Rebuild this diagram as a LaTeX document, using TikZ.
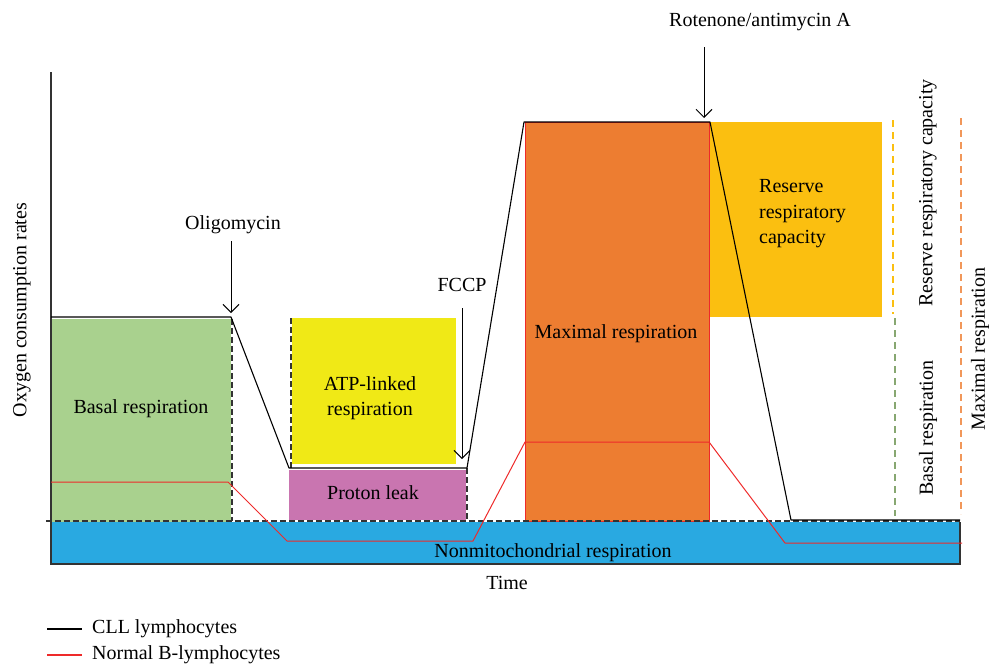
\documentclass[tikz,border=0pt]{standalone}
\usepackage{fontspec}
\setmainfont{Liberation Serif}
\usetikzlibrary{arrows.meta}
\definecolor{cgreen}{HTML}{A9D18E}
\definecolor{cyellow}{HTML}{F0E916}
\definecolor{cpink}{HTML}{C975B0}
\definecolor{corange}{HTML}{ED7D31}
\definecolor{cgold}{HTML}{FBBF10}
\definecolor{cblue}{HTML}{29A9E1}
\definecolor{cred}{HTML}{EE2A2A}
\definecolor{caxis}{HTML}{333333}
\tikzset{
  lbl/.style={font=\fontsize{20}{25.5}\selectfont, inner sep=0pt, align=center},
  cll/.style={black, line width=1.1pt, line join=round},
  normb/.style={cred, line width=1pt, line join=round},
  drug/.style={black, line width=1pt, -{Straight Barb[length=8pt,width=16pt,line width=1pt]}},
  bdash/.style={black!80, dashed, dash pattern=on 6pt off 3pt, line width=1.1pt},
  vdash/.style={dashed, dash pattern=on 7pt off 5pt, line width=1.1pt}
}
\begin{document}
\begin{tikzpicture}[x=1pt,y=-1pt]
\useasboundingbox (0,0) rectangle (989,665);
% blocks
\fill[cblue] (51,522) rectangle (960,564);
\draw[caxis, line width=1.2pt] (960,522) -- (960,564) -- (51,564);
\fill[cgreen] (52,319) rectangle (231,522);
\fill[cyellow] (292,318) rectangle (456,464);
\fill[cpink] (289,470) rectangle (466,520);
\fill[cgold] (709,122) rectangle (882,317);
\fill[corange, draw=cred, line width=1pt] (525,122) rectangle (709,521);
% axes
\draw[caxis, line width=1.5pt] (51,72) -- (51,565);
% dashed guide lines
\draw[bdash] (46,521) -- (960,521);
\draw[bdash] (232,319) -- (232,521);
\draw[bdash] (291,318) -- (291,468);
\draw[bdash] (467,468) -- (467,520);
\draw[vdash, cgold] (893,120) -- (893,314);
\draw[vdash, cgreen!80!black] (895,318) -- (895,516);
\draw[vdash, corange!80] (961,118) -- (961,514);
% CLL curve
\coordinate (c1) at (51,317);
\coordinate (c2) at (231,317);
\coordinate (c3) at (289,468);
\coordinate (c4) at (467,468);
\coordinate (c5) at (524,122);
\coordinate (c6) at (710,122);
\coordinate (c7) at (791,520);
\coordinate (c8) at (960,520);
\draw[cll] (c1) -- (c2) -- (c3) -- (c4) -- (c5) -- (c6) -- (c7) -- (c8);
% Normal B curve
\coordinate (r1) at (51,482);
\coordinate (r2) at (228,482);
\coordinate (r3) at (287,541);
\coordinate (r4) at (473,541);
\coordinate (r5) at (525,442);
\coordinate (r6) at (709,442);
\coordinate (r7) at (785,543);
\coordinate (r8) at (962,543);
\draw[normb] (r1) -- (r2) -- (r3) -- (r4) -- (r5) -- (r6) -- (r7) -- (r8);
% drug labels and arrows
\node[lbl] (oligo) at (233,225) {Oligomycin};
\node[lbl] (fccp) at (462,285) {FCCP};
\node[lbl] (rot) at (760,22) {Rotenone/antimycin A};
\coordinate (oligoT) at (231,313);
\coordinate (fccpT) at (462,459);
\coordinate (rotT) at (704,118);
\draw[drug] (231,241) -- (oligoT);
\draw[drug] (462,308) -- (fccpT);
\draw[drug] (704,47) -- (rotT);
% block labels
\node[lbl] (basal) at (141,409) {Basal respiration};
\node[lbl] (atp) at (370,398) {ATP-linked\\respiration};
\node[lbl] (leak) at (373,493) {Proton leak};
\node[lbl] (maxr) at (616,334) {Maximal respiration};
\node[lbl, align=left, anchor=west] (rrc) at (759,214) {Reserve\\respiratory\\capacity};
\node[lbl] (nonm) at (553,553) {Nonmitochondrial respiration};
\node[lbl] (time) at (507,583) {Time};
\node[lbl, rotate=90] (ocr) at (22,310) {Oxygen consumption rates};
\node[lbl, rotate=90] (rrcv) at (928,193) {Reserve respiratory capacity};
\node[lbl, rotate=90] (basv) at (928,428) {Basal respiration};
\node[lbl, rotate=90] (maxv) at (980,349) {Maximal respiration};
% legend
\coordinate (l1a) at (47,629);
\coordinate (l1b) at (82,629);
\coordinate (l2a) at (47,655);
\coordinate (l2b) at (82,655);
\draw[cll] (l1a) -- (l1b);
\draw[normb, line width=1.3pt] (l2a) -- (l2b);
\node[lbl, anchor=west] (leg1) at (92,629) {CLL lymphocytes};
\node[lbl, anchor=west] (leg2) at (92,655) {Normal B-lymphocytes};
\end{tikzpicture}
\end{document}
